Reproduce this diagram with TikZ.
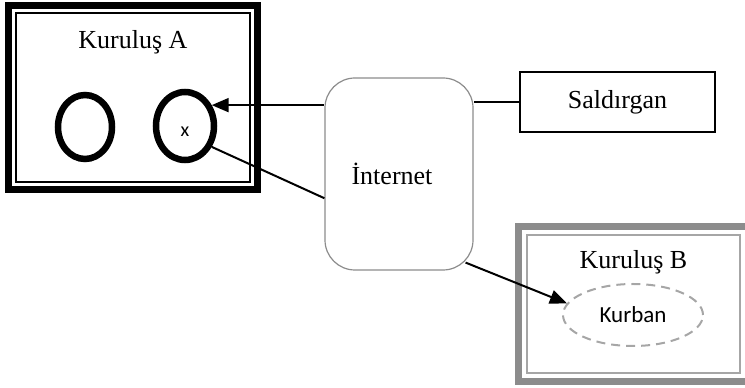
\documentclass[tikz,border=0pt]{standalone}
\usepackage{fontspec}
\setmainfont{Liberation Serif}
\setsansfont{Carlito}
\usetikzlibrary{arrows.meta,calc,shapes.geometric,positioning}
\tikzset{
  conn/.style={line width=2pt},
  tip/.style={-{Triangle[length=17pt,width=14pt]}},
  ring/.style={ellipse,draw,line width=6.5pt,inner sep=0pt},
  lbl/.style={font=\fontsize{26}{30}\selectfont},
  frame/.style={draw,line width=1.2pt,inner sep=0pt}
}
\begin{document}
\begin{tikzpicture}[x=1pt,y=1pt]
\pgfmathsetmacro{\kth}{7}
\useasboundingbox (0,0) rectangle (745,388);
% Kurulus A
\node[frame,minimum width=234pt,minimum height=169pt] (kurA) at (133,290.5) {};
\draw[line width=\kth pt] ($(kurA.south west)+(-7,-7)$) rectangle ($(kurA.north east)+(7,7)$);
\node[lbl] (titA) at ([yshift=-30pt]kurA.north) {Kuruluş A};
\node[ring,minimum width=54pt,minimum height=64pt] (circL) at (85,261) {};
\node[ring,minimum width=58pt,minimum height=68pt,font=\sffamily\fontsize{20}{24}\selectfont,text height=21pt,text depth=0pt] (circX) at (185,262) {x};
% Internet ve saldirgan
\node[frame,draw=black!45,rounded corners=30pt,minimum width=148pt,minimum height=192pt,lbl] (net) at (399,214) {İnternet\kern14pt};
\node[frame,line width=1.8pt,minimum width=195pt,minimum height=60pt,lbl] (att) at (617.5,286) {Saldırgan};
% Kurulus B
\node[frame,draw=black!35,minimum width=213pt,minimum height=138pt] (kurB) at (633.5,84) {};
\draw[black!45,line width=\kth pt] ($(kurB.south west)+(-8,-8)$) rectangle ($(kurB.north east)+(9,8)$);
\node[lbl] (titB) at ([yshift=-28pt]kurB.north) {Kuruluş B};
\node[ellipse,draw=black!35,dash pattern=on 9pt off 6pt,line width=2pt,minimum width=140pt,minimum height=62pt,font=\sffamily\fontsize{23}{27}\selectfont] (vic) at (633,73) {Kurban};
% baglantilar
\draw[conn] (att.west) -- (net.east |- att.west);
\draw[conn,tip] (net.west |- circX.38) -- (circX.38);
\draw[conn] (circX.-38) -- (net.-162);
\draw[conn,tip] ($(net.south east)+(-8,8)$) -- (vic.170);
\end{tikzpicture}
\end{document}
